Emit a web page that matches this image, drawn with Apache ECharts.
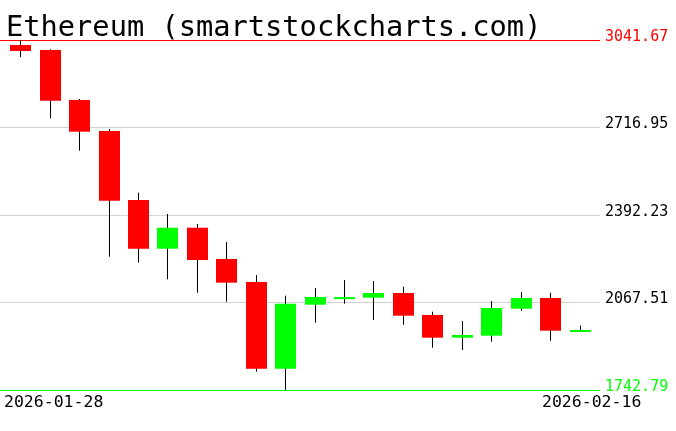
<!DOCTYPE html>
<html>
<head>
<meta charset="utf-8">
<script src="https://cdn.jsdelivr.net/npm/echarts@6/dist/echarts.min.js"></script>
<style>
html,body{margin:0;padding:0;background:#fff;}
#chart{width:676px;height:431px;}
</style>
</head>
<body>
<div id="chart"></div>
<script>
const titleText = 'Ethereum (smartstockcharts.com)';
const categories = ['2026-01-28','2026-01-29','2026-01-30','2026-01-31','2026-02-01','2026-02-02','2026-02-03','2026-02-04','2026-02-05','2026-02-06','2026-02-07','2026-02-08','2026-02-09','2026-02-10','2026-02-11','2026-02-12','2026-02-13','2026-02-14','2026-02-15','2026-02-16'];
const opens  = [3023.11, 3004.56, 2819.00, 2703.96, 2447.90, 2267.16, 2345.10, 2228.94, 2143.59, 1821.84, 2059.36, 2084.50, 2085.32, 2102.76, 2021.12, 1936.88, 1944.30, 2044.50, 2084.21, 1964.50];
const closes = [3000.85, 2816.41, 2701.36, 2445.30, 2267.16, 2345.10, 2225.23, 2140.99, 1821.84, 2063.06, 2087.92, 2087.50, 2102.76, 2018.54, 1936.88, 1946.90, 2047.10, 2084.21, 1962.86, 1965.50];
const lows   = [2977.47, 2751.09, 2630.85, 2237.48, 2215.21, 2153.61, 2103.88, 2070.48, 1810.70, 1742.79, 1992.55, 2063.06, 2002.56, 1985.12, 1899.77, 1891.23, 1922.03, 2037.08, 1925.74, 1959.14];
const highs  = [3041.67, 3007.16, 2822.72, 2711.38, 2474.99, 2395.94, 2358.83, 2292.03, 2169.56, 2092.74, 2121.32, 2151.01, 2147.30, 2126.14, 2033.37, 1998.85, 2073.08, 2106.48, 2103.88, 1981.41];
const yTicks = [1742.79, 2067.51, 2392.23, 2716.95, 3041.67];
const dateLabels = ['2026-01-28', '2026-02-16'];

const yMin = yTicks[0], yMax = yTicks[yTicks.length - 1];
const yStep = yTicks[1] - yTicks[0];

const chart = echarts.init(document.getElementById('chart'), null, {renderer: 'canvas'});
const candleData = categories.map((c, i) => [i, opens[i], closes[i], lows[i], highs[i]]);
const FONT = '"DejaVu Sans Mono", monospace';

const option = {
  animation: false,
  backgroundColor: '#ffffff',
  grid: [
    {left: 0, right: 76, top: 40, bottom: 41},
    {left: 6, right: 81.2, top: 40, bottom: 41}
  ],
  xAxis: [
    {gridIndex: 0, type: 'value', min: 0, max: 1, show: false},
    {gridIndex: 1, type: 'category', data: categories, boundaryGap: true, show: false}
  ],
  yAxis: [
    {
      gridIndex: 0, type: 'value', position: 'right',
      min: yMin, max: yMax, interval: yStep,
      axisLine: {show: false}, axisTick: {show: false},
      splitLine: {show: true, showMinLine: true, showMaxLine: true,
        lineStyle: {color: yTicks.map((v, i) => i === 0 ? '#00ff00' : (i === yTicks.length - 1 ? '#ff0000' : '#d3d3d3')), width: 1}},
      axisLabel: {
        show: true, inside: false, margin: 5, align: 'left', verticalAlign: 'bottom', lineHeight: 6,
        fontFamily: FONT, fontSize: 15,
        formatter: v => Number(v).toFixed(2),
        color: v => {
          const n = Number(v);
          if (Math.abs(n - yMin) < 0.01) return '#00ff00';
          if (Math.abs(n - yMax) < 0.01) return '#ff0000';
          return '#000000';
        }
      }
    },
    {gridIndex: 1, type: 'value', min: yMin, max: yMax, show: false, splitLine: {show: false}}
  ],
  graphic: [
    {type: 'text', left: 6, top: 14.5, silent: true,
      style: {text: titleText, font: '28.7px ' + FONT, fill: '#000'}},
    {type: 'text', left: 4, top: 394, silent: true,
      style: {text: dateLabels[0], font: '16.5px ' + FONT, fill: '#000'}},
    {type: 'text', left: 542, top: 394, silent: true,
      style: {text: dateLabels[1], font: '16.5px ' + FONT, fill: '#000'}}
  ],
  series: [{
    type: 'custom',
    xAxisIndex: 1, yAxisIndex: 1,
    clip: false,
    encode: {x: 0, y: [1, 2, 3, 4]},
    data: candleData,
    renderItem: function (params, api) {
      const i = api.value(0);
      const o = api.value(1), c = api.value(2), l = api.value(3), h = api.value(4);
      const pO = api.coord([i, o]), pC = api.coord([i, c]);
      const pL = api.coord([i, l]), pH = api.coord([i, h]);
      const band = api.size([1, 0])[0];
      const bw = Math.round(band * 0.715);
      const cx = pO[0];
      const lx = Math.floor(cx) + 0.5;
      const top = Math.min(pO[1], pC[1]);
      const bot = Math.max(pO[1], pC[1]);
      const hgt = Math.max(bot - top, 2);
      const color = c >= o ? '#00ff00' : '#ff0000';
      return {
        type: 'group',
        children: [
          {type: 'line', shape: {x1: lx, y1: pH[1], x2: lx, y2: pL[1]},
            style: {stroke: '#000000', lineWidth: 1}},
          {type: 'rect', shape: {x: Math.round(cx - bw / 2), y: top, width: bw, height: hgt},
            style: {fill: color}}
        ]
      };
    }
  }]
};
chart.setOption(option);
</script>
</body>
</html>
